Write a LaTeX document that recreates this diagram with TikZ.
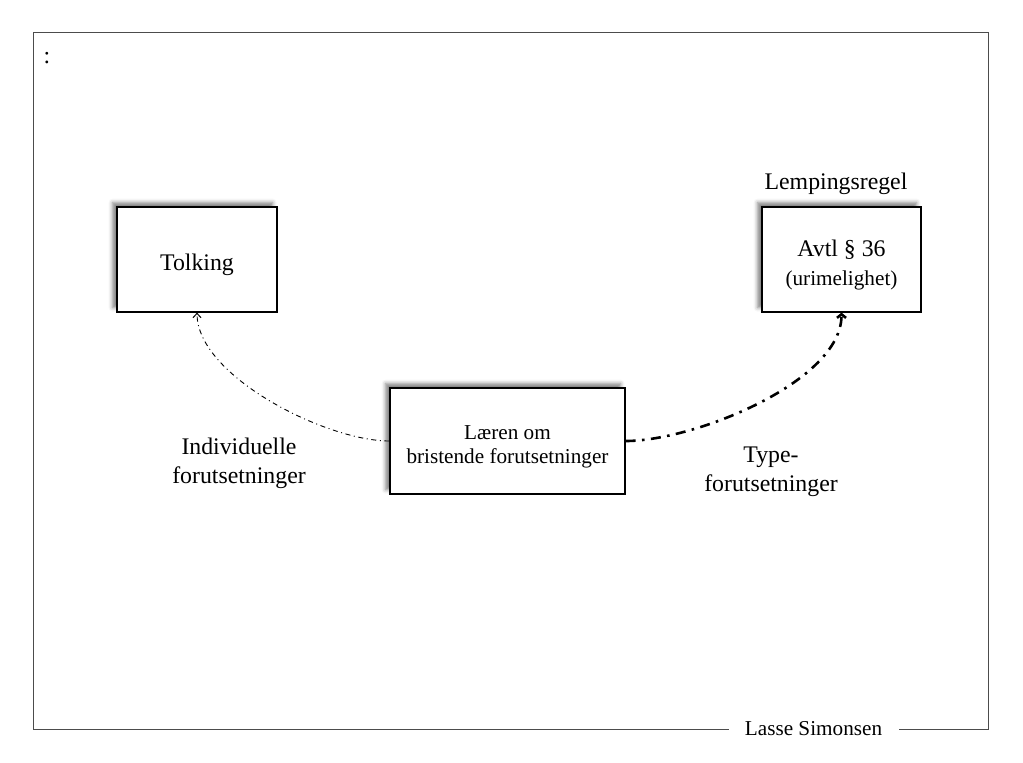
\documentclass[tikz,border=0pt]{standalone}
\usepackage{fontspec}
\setmainfont{Liberation Serif}
\usetikzlibrary{shadows.blur,arrows.meta}
\begin{document}
\begin{tikzpicture}[x=0.5pt,y=-0.5pt,
  big/.style={font=\fontsize{11.9}{14.5}\selectfont},
  small/.style={font=\fontsize{10.6}{12}\selectfont},
  box/.style={draw, line width=0.6pt, fill=white, rectangle, inner sep=0pt,
    minimum height=52.5pt,
    blur shadow={shadow xshift=-2.2pt, shadow yshift=2.2pt, shadow blur radius=2pt, shadow opacity=50}},
  boxtext/.style={align=center, inner sep=0pt},
  frame/.style={draw=black!70, line width=0.5pt},
  thinlink/.style={line width=0.45pt, dash pattern=on 2.5pt off 1.8pt on 0.5pt off 1.8pt,
    -{Straight Barb[length=2.2pt,width=4pt,line width=0.5pt]}},
  thicklink/.style={line width=1.3pt, dash pattern=on 5pt off 3.2pt on 1.3pt off 3.2pt,
    -{Straight Barb[length=1.8pt,width=4.5pt,line width=1.3pt]}}
]
\useasboundingbox (0,0) rectangle (1023,762);
% frame and author
\node[small, inner xsep=8pt] (author) at (813.5,729) {Lasse Simonsen};
\draw[frame] (author.west) -- (33,729) -- (33,32) -- (988,32) -- (988,729) -- (author.east);
\node[big] (colon) at (47,58) {:};
% boxes
\node[box, minimum width=80pt] (tolk) at (197,259.5) {};
\node[boxtext, big] (tolktxt) at ([yshift=-2.5pt]tolk.center) {Tolking};
\node[box, minimum width=79.5pt] (avtl) at (841.5,259.5) {};
\node[boxtext, font=\fontsize{11.9}{14.5}\selectfont] (avtltxt) at ([yshift=-2.8pt]avtl.center)
  {Avtl § 36\\{\fontsize{10.6}{14.5}\selectfont (urimelighet)}};
\node[big] (lemp) at (836,184) {Lempingsregel};
\node[box, minimum width=117.5pt, minimum height=53pt] (mid) at (507.5,441) {};
\node[boxtext, small] (midtxt) at ([yshift=-2.8pt]mid.center)
  {Læren om\\bristende forutsetninger};
% labels
\node[big, align=center] (indiv) at (239,463) {Individuelle\\forutsetninger};
\node[big, align=center] (type) at (771,472) {Type-\\forutsetninger};
% connectors
\draw[thinlink] (mid.west) to[out=180,in=-90,looseness=0.7] (tolk.south);
\draw[thicklink] (mid.east) to[out=0,in=-90,looseness=0.7] (avtl.south);
\end{tikzpicture}
\end{document}
